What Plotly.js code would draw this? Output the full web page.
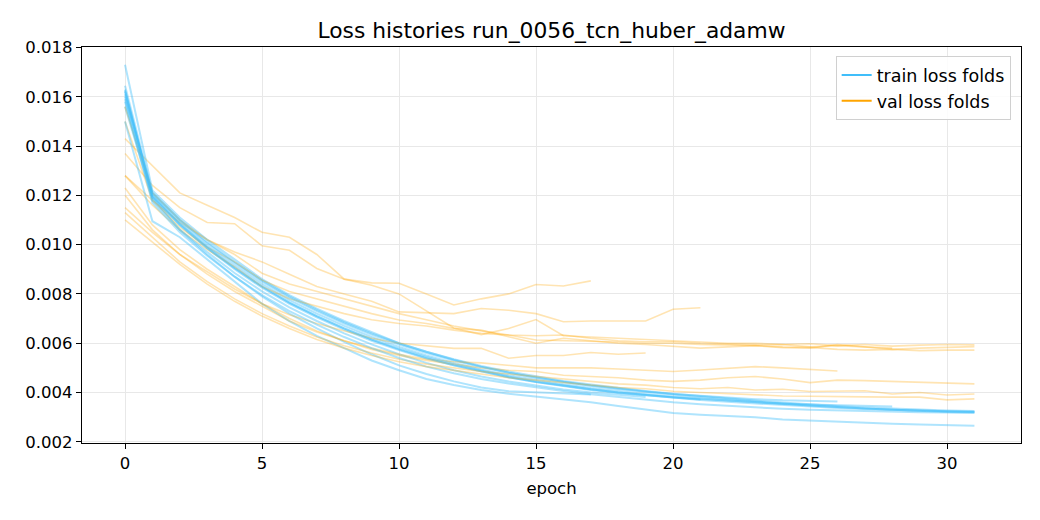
<!DOCTYPE html>
<html>
<head>
<meta charset="utf-8">
<script src="https://cdn.plot.ly/plotly-3.0.1.min.js"></script>
<style>
  html, body { margin: 0; padding: 0; background: #ffffff; }
  #chart { width: 1040px; height: 520px; }
</style>
</head>
<body>
<div id="chart"></div>
<script>
// per-fold loss histories, index = epoch (folds stop early at different epochs)
const trainFold1 = [0.0163, 0.0119, 0.0106, 0.0096, 0.0087, 0.0079, 0.0072, 0.0066, 0.00605, 0.00555, 0.0051, 0.00475, 0.00445, 0.0042, 0.00405, 0.0040, 0.00395, 0.00392];
const trainFold2 = [0.01645, 0.0121, 0.0110, 0.0101, 0.0093, 0.00855, 0.0079, 0.00735, 0.00685, 0.0064, 0.0060, 0.00565, 0.00535, 0.00508, 0.00485, 0.00465, 0.00447, 0.00432, 0.00418, 0.00406, 0.00395, 0.00385, 0.00376, 0.00367, 0.00359, 0.00351, 0.00345, 0.00339, 0.00334, 0.0033, 0.00327, 0.00325];
const trainFold3 = [0.0161, 0.0120, 0.01085, 0.0099, 0.00905, 0.0083, 0.00765, 0.0071, 0.0066, 0.00615, 0.00575, 0.0054, 0.0051, 0.00485, 0.00462, 0.00442, 0.00425, 0.0041, 0.00398, 0.00388, 0.0038, 0.00372];
const trainFold4 = [0.0156, 0.0119, 0.0108, 0.00985, 0.0090, 0.00825, 0.0076, 0.00705, 0.00655, 0.0061, 0.00572, 0.00538, 0.0051, 0.00485, 0.00462, 0.00443, 0.00427, 0.00413, 0.0040, 0.0039, 0.00381, 0.00374, 0.00367, 0.0036, 0.00355, 0.00351, 0.00348, 0.00345, 0.00343];
const trainFold5 = [0.0173, 0.0122, 0.0111, 0.0102, 0.0094, 0.0086, 0.00795, 0.0074, 0.0069, 0.00645, 0.0060, 0.00565, 0.00533, 0.00505, 0.0048, 0.0046, 0.00442, 0.00427, 0.00414, 0.00402, 0.00392, 0.00382, 0.00372, 0.00363, 0.00355, 0.00347, 0.0034, 0.00335, 0.0033, 0.00325, 0.00321, 0.00319];
const trainFold6 = [0.01625, 0.0120, 0.0109, 0.00995, 0.00915, 0.0084, 0.00775, 0.0072, 0.0067, 0.00625, 0.00585, 0.0055, 0.0052, 0.00493, 0.0047, 0.0045, 0.00433, 0.00418, 0.00405, 0.00394, 0.00384, 0.00375, 0.00367, 0.0036, 0.00353, 0.00346, 0.0034, 0.00335, 0.0033, 0.00326, 0.00323, 0.00321];
const trainFold7 = [0.0159, 0.0118, 0.0106, 0.0097, 0.00885, 0.0081, 0.00745, 0.0069, 0.0064, 0.00595, 0.00555, 0.0052, 0.0049, 0.00465, 0.00445, 0.00427, 0.00412, 0.0040, 0.0039, 0.00382];
const trainFold8 = [0.0150, 0.01095, 0.0103, 0.0094, 0.0085, 0.0076, 0.0069, 0.0063, 0.0058, 0.0053, 0.0049, 0.00455, 0.0043, 0.0041, 0.00395, 0.00383, 0.00372, 0.0036, 0.00345, 0.0033, 0.00317, 0.0031, 0.00305, 0.0030, 0.0029, 0.00285, 0.0028, 0.00277, 0.00273, 0.0027, 0.00268, 0.00265];
const trainFold9 = [0.0160, 0.0121, 0.0110, 0.01005, 0.00925, 0.0085, 0.00785, 0.0073, 0.0068, 0.00635, 0.00595, 0.0056, 0.0053, 0.00503, 0.0048, 0.0046, 0.00443, 0.00428, 0.00415, 0.00404, 0.00394, 0.00386, 0.00379, 0.00373, 0.00368, 0.00365, 0.00363];
const trainFold10 = [0.0162, 0.01195, 0.0108, 0.00985, 0.00905, 0.0083, 0.00765, 0.0071, 0.0066, 0.00615, 0.00578, 0.00544, 0.00514, 0.00488, 0.00465, 0.00445, 0.00428, 0.00413, 0.0040, 0.00389, 0.00379, 0.0037, 0.00362, 0.00355, 0.00348, 0.00342, 0.00337, 0.00333, 0.00329, 0.00326, 0.00324, 0.00322];
const trainFold11 = [0.0158, 0.0117, 0.0105, 0.00955, 0.0087, 0.00795, 0.0073, 0.00675, 0.00625, 0.0058, 0.0054, 0.00505, 0.00478, 0.00455, 0.00436, 0.0042, 0.00406, 0.00393, 0.00381, 0.0037, 0.0036, 0.00352, 0.00345, 0.00339, 0.00334, 0.0033, 0.00327, 0.00324, 0.00322, 0.0032, 0.00319, 0.00318];

const valFold1 = [0.0143, 0.0132, 0.0121, 0.0116, 0.0111, 0.0105, 0.0103, 0.0096, 0.0086, 0.00845, 0.00843, 0.0080, 0.00755, 0.0078, 0.0080, 0.00838, 0.00832, 0.00853];
const valFold2 = [0.0137, 0.0124, 0.0115, 0.0109, 0.01085, 0.00995, 0.00977, 0.00903, 0.0086, 0.00835, 0.0080, 0.0073, 0.00662, 0.00635, 0.0066, 0.00696, 0.0063, 0.00625, 0.0062, 0.00615, 0.0061, 0.00605, 0.0060, 0.0060, 0.00595, 0.00598, 0.0059, 0.00595, 0.00588, 0.00592, 0.00595, 0.00593];
const valFold3 = [0.0128, 0.0118, 0.0109, 0.0102, 0.0097, 0.0093, 0.0088, 0.0083, 0.0080, 0.0077, 0.00727, 0.00725, 0.0072, 0.00741, 0.00734, 0.0072, 0.00687, 0.0069, 0.0069, 0.0069, 0.00738, 0.00744];
const valFold4 = [0.0156, 0.0121, 0.0110, 0.0102, 0.0096, 0.00884, 0.0084, 0.0081, 0.0078, 0.0075, 0.0072, 0.00695, 0.0067, 0.0065, 0.00633, 0.0063, 0.00633, 0.0062, 0.0061, 0.00606, 0.00606, 0.0060, 0.00595, 0.00593, 0.00595, 0.00585, 0.0059, 0.00585, 0.0058];
const valFold5 = [0.0150, 0.0118, 0.0107, 0.0099, 0.0093, 0.00856, 0.0081, 0.0078, 0.0075, 0.0072, 0.00694, 0.0068, 0.0066, 0.00653, 0.00626, 0.0060, 0.0062, 0.0061, 0.0060, 0.00595, 0.00586, 0.0058, 0.00585, 0.0059, 0.00582, 0.0058, 0.00595, 0.00585, 0.00575, 0.0058, 0.00582, 0.00586];
const valFold6 = [0.0128, 0.0116, 0.0106, 0.0098, 0.0091, 0.0083, 0.0078, 0.0075, 0.0072, 0.00695, 0.0068, 0.0067, 0.00653, 0.0064, 0.00633, 0.00613, 0.0061, 0.0061, 0.00605, 0.0060, 0.0060, 0.00595, 0.00593, 0.0059, 0.00585, 0.00583, 0.00575, 0.00572, 0.00575, 0.0057, 0.00572, 0.00572];
const valFold7 = [0.0115, 0.0105, 0.0096, 0.0089, 0.0082, 0.0076, 0.00715, 0.0068, 0.0065, 0.0062, 0.0060, 0.0059, 0.00579, 0.00579, 0.00539, 0.0055, 0.0055, 0.00562, 0.00555, 0.0056];
const valFold8 = [0.0123, 0.0108, 0.0098, 0.0090, 0.0083, 0.0076, 0.0070, 0.0065, 0.0061, 0.00575, 0.0055, 0.0053, 0.00515, 0.0050, 0.0049, 0.00485, 0.0047, 0.00465, 0.0046, 0.0045, 0.00445, 0.0045, 0.0046, 0.00465, 0.00455, 0.0044, 0.0045, 0.00448, 0.00445, 0.0044, 0.00438, 0.00435];
const valFold9 = [0.0120, 0.0106, 0.0096, 0.0088, 0.0081, 0.0075, 0.0069, 0.00645, 0.0061, 0.0058, 0.00555, 0.00535, 0.00525, 0.0052, 0.0051, 0.0050, 0.0050, 0.0050, 0.00495, 0.0049, 0.00485, 0.00491, 0.00498, 0.00505, 0.0050, 0.00495, 0.00487];
const valFold10 = [0.0113, 0.0103, 0.0093, 0.0085, 0.0078, 0.0072, 0.0067, 0.00625, 0.0059, 0.0056, 0.00535, 0.00515, 0.0050, 0.00485, 0.00475, 0.00465, 0.00455, 0.00445, 0.00435, 0.0043, 0.0042, 0.00415, 0.0042, 0.0041, 0.00413, 0.00404, 0.00405, 0.00407, 0.00394, 0.0040, 0.0039, 0.00394];
const valFold11 = [0.0110, 0.0101, 0.0092, 0.0084, 0.0077, 0.0071, 0.0066, 0.00615, 0.0058, 0.0055, 0.00525, 0.00505, 0.0049, 0.00475, 0.0046, 0.0045, 0.0044, 0.0043, 0.0042, 0.00415, 0.00405, 0.0040, 0.00395, 0.0039, 0.00386, 0.00385, 0.00385, 0.00382, 0.00381, 0.00381, 0.0037, 0.00374];

const yTicks = [0.002, 0.004, 0.006, 0.008, 0.010, 0.012, 0.014, 0.016, 0.018];
const xTicks = [0, 5, 10, 15, 20, 25, 30];

const TRAIN_COLOR = "rgb(64,190,250)";
const VAL_COLOR = "rgb(255,165,0)";
const FONT = "DejaVu Sans, Verdana, sans-serif";

const trainFolds = [trainFold1, trainFold2, trainFold3, trainFold4, trainFold5, trainFold6,
    trainFold7, trainFold8, trainFold9, trainFold10, trainFold11];
const valFolds = [valFold1, valFold2, valFold3, valFold4, valFold5, valFold6,
    valFold7, valFold8, valFold9, valFold10, valFold11];

function foldTrace(values, color, width, opacity) {
    return {
        x: values.map((v, i) => i),
        y: values,
        mode: 'lines',
        type: 'scatter',
        line: { color: color, width: width },
        opacity: opacity,
        showlegend: false,
        hoverinfo: 'skip'
    };
}

function legendTrace(name, color) {
    // empty trace so the legend shows a solid swatch
    return {
        x: [null],
        y: [null],
        mode: 'lines',
        type: 'scatter',
        name: name,
        line: { color: color, width: 2.2 }
    };
}

var data = [];
for (let i = 0; i < trainFolds.length; i++) {
    data.push(foldTrace(trainFolds[i], TRAIN_COLOR, 2, 0.42));
    data.push(foldTrace(valFolds[i], VAL_COLOR, 1.6, 0.3));
}
data.push(legendTrace('train loss folds', TRAIN_COLOR));
data.push(legendTrace('val loss folds', VAL_COLOR));

var layout = {
    width: 1040,
    height: 520,
    plot_bgcolor: "#ffffff",
    paper_bgcolor: "#ffffff",
    font: { family: FONT, size: 16.5, color: "#000000" },
    margin: { l: 82, r: 19, t: 47, b: 77 },
    title: {
        text: 'Loss histories run_0056_tcn_huber_adamw',
        font: { family: FONT, size: 21.8, color: "#000000" },
        x: 0.5,
        xref: 'paper',
        y: 1 - 30 / 520,
        yref: 'container',
        yanchor: 'middle'
    },
    xaxis: {
        title: { text: 'epoch', font: { family: FONT, size: 16.5 }, standoff: 10 },
        range: [-1.57, 32.7],
        tickvals: xTicks,
        ticktext: xTicks.map(String),
        tickfont: { family: FONT, size: 16.5 },
        ticks: 'outside',
        ticklen: 5,
        tickcolor: '#000000',
        showline: true,
        linecolor: '#000000',
        linewidth: 1.1,
        mirror: true,
        showgrid: true,
        gridcolor: '#e8e8e8',
        gridwidth: 1,
        zeroline: false,
        automargin: false
    },
    yaxis: {
        range: [0.00195, 0.01802],
        tickvals: yTicks,
        ticktext: yTicks.map(v => v.toFixed(3)),
        tickfont: { family: FONT, size: 16.5 },
        ticks: 'outside',
        ticklen: 5,
        tickcolor: '#000000',
        showline: true,
        linecolor: '#000000',
        linewidth: 1.1,
        mirror: true,
        showgrid: true,
        gridcolor: '#e8e8e8',
        gridwidth: 1,
        zeroline: false,
        automargin: false
    },
    legend: {
        x: 0.989,
        xanchor: 'right',
        y: 0.977,
        yanchor: 'top',
        bgcolor: 'rgba(255,255,255,0.85)',
        bordercolor: '#d0d0d0',
        borderwidth: 1,
        font: { family: FONT, size: 17.5 },
        itemwidth: 30,
        tracegroupgap: 2
    },
    showlegend: true
};

Plotly.newPlot('chart', data, layout, { displayModeBar: false, staticPlot: true });
</script>
</body>
</html>
